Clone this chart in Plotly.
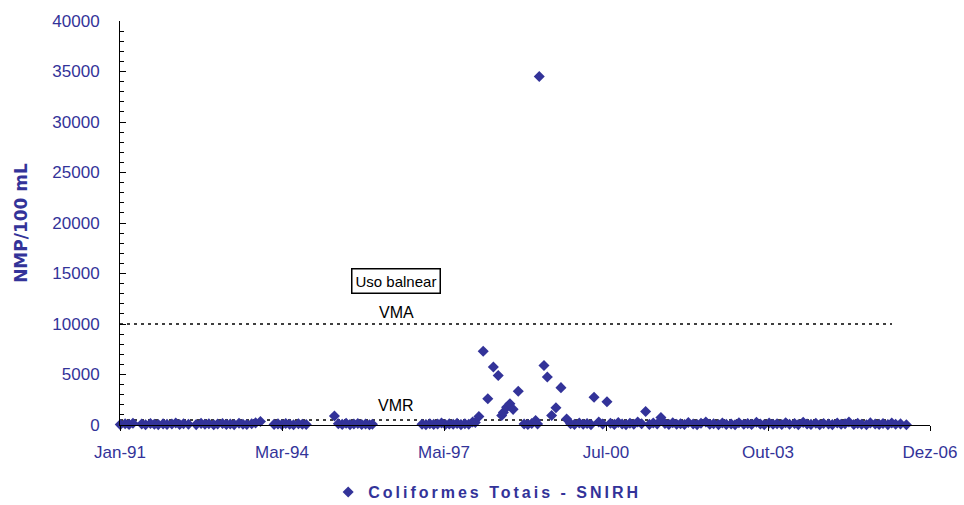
import plotly.graph_objects as go

# Total coliform counts (NMP/100 mL) by sampling date
sample_dates = [
    "1991-01-03", "1991-02-07", "1991-03-07", "1991-04-04", "1991-06-06", "1991-07-04",
    "1991-08-08", "1991-09-05", "1991-10-03", "1991-11-07", "1991-12-05",
    "1992-01-09", "1992-02-06", "1992-03-05", "1992-04-02", "1992-05-07", "1992-07-02",
    "1992-08-06", "1992-09-03", "1992-10-01", "1992-11-05", "1992-12-03",
    "1993-01-07", "1993-02-04", "1993-03-04", "1993-04-01", "1993-05-06", "1993-06-03",
    "1993-07-01", "1993-08-05", "1993-09-02", "1993-10-07",
    "1994-01-13", "1994-02-10", "1994-03-10", "1994-04-07", "1994-05-05", "1994-06-02",
    "1994-07-07", "1994-08-04", "1994-09-01",
    "1995-03-23", "1995-04-20", "1995-05-18", "1995-06-15", "1995-07-13", "1995-08-10",
    "1995-09-07", "1995-10-05", "1995-11-02", "1995-11-30", "1995-12-21",
    "1996-12-12",
    "1997-01-09", "1997-02-06", "1997-03-06", "1997-04-03", "1997-05-01", "1997-05-29",
    "1997-06-26", "1997-07-24", "1997-08-21", "1997-09-18", "1997-10-16", "1997-11-13",
    "1997-12-11", "1997-12-30",
    "1998-01-25", "1998-02-25", "1998-03-30", "1998-05-09", "1998-06-13", "1998-07-08",
    "1998-07-20", "1998-08-12", "1998-09-05", "1998-09-28", "1998-11-04", "1998-12-16",
    "1999-01-12", "1999-02-09", "1999-03-09", "1999-03-23", "1999-04-04", "1999-05-08",
    "1999-06-01", "1999-07-02", "1999-08-02", "1999-09-07", "1999-10-18", "1999-11-15",
    "1999-12-13",
    "2000-01-17", "2000-02-14", "2000-03-13", "2000-04-10", "2000-05-02", "2000-06-05",
    "2000-07-03", "2000-08-03", "2000-08-28", "2000-09-25", "2000-10-23", "2000-11-20",
    "2000-12-18",
    "2001-01-15", "2001-02-12", "2001-03-12", "2001-04-09", "2001-05-08", "2001-06-04",
    "2001-07-02", "2001-07-30", "2001-08-26", "2001-09-24", "2001-10-22", "2001-11-19",
    "2001-12-17",
    "2002-01-14", "2002-02-11", "2002-03-11", "2002-04-15", "2002-05-13", "2002-06-10",
    "2002-07-15", "2002-08-12", "2002-09-09", "2002-10-14", "2002-11-11", "2002-12-09",
    "2003-01-13", "2003-02-10", "2003-03-10", "2003-04-14", "2003-05-12", "2003-06-09",
    "2003-07-14", "2003-08-11", "2003-09-08", "2003-10-13", "2003-11-10", "2003-12-09",
    "2004-01-12", "2004-02-09", "2004-03-08", "2004-04-13", "2004-05-10", "2004-06-14",
    "2004-07-12", "2004-08-09", "2004-09-13", "2004-10-11", "2004-11-08", "2004-12-13",
    "2005-01-10", "2005-02-14", "2005-03-14", "2005-04-11", "2005-05-09", "2005-06-13",
    "2005-07-11", "2005-08-08", "2005-09-12", "2005-10-10", "2005-11-14", "2005-12-12",
    "2006-01-09", "2006-02-13", "2006-03-13", "2006-04-10", "2006-05-15", "2006-06-26",
]
coliformes = [
    40, 120, 60, 180, 90, 30,
    150, 70, 40, 110, 60,
    90, 200, 50, 130, 80, 40,
    160, 70, 120, 30, 90,
    140, 60, 100, 40, 170, 80,
    50, 120, 210, 350,
    60, 110, 40, 150, 80, 30,
    120, 70, 50,
    900, 120, 60, 170, 40, 90,
    140, 50, 100, 30, 70,
    80,
    40, 130, 60, 90, 200, 50,
    110, 70, 160, 40, 120, 80,
    300, 250,
    850, 7300, 2600, 5750, 4900, 950,
    1250, 1750, 2100, 1550, 3350, 90,
    60, 150, 450, 100, 34500, 5900,
    4750, 950, 1700, 3700, 600, 120,
    60,
    200, 80, 150, 40, 2750, 300,
    90, 2300, 170, 60, 250, 100,
    40,
    180, 70, 300, 120, 1330, 60,
    200, 90, 750, 150, 60, 220,
    80,
    130, 50, 250, 90, 40, 180,
    300, 70, 120, 40, 200, 60,
    100, 30, 220, 80, 150, 60,
    280, 90, 40, 190, 70, 120,
    50, 230, 80, 140, 40, 260,
    100, 60, 180, 30, 150, 90,
    40, 200, 70, 120, 300, 50,
    160, 80, 30, 210, 90, 60,
    140, 40, 190, 70, 110, 30,
]

# Bathing-water guideline (VMR) and mandatory (VMA) limits
vma_value = 10000
vmr_value = 500
limit_dates = ["1991-01-01", "2006-03-15"]

# Date axis ticks
tick_dates = ["1991-01-01", "1994-03-11", "1997-05-19", "2000-07-27", "2003-10-05", "2006-12-13"]
tick_labels = ["Jan-91", "Mar-94", "Mai-97", "Jul-00", "Out-03", "Dez-06"]

navy = "#333399"
tick_font = dict(family="Liberation Sans, Arial, sans-serif", size=17, color=navy)

fig = go.Figure()

for level in (vma_value, vmr_value):
    fig.add_trace(go.Scatter(
        x=limit_dates, y=[level, level], mode="lines",
        line=dict(color="black", width=1.5, dash="3px,4px"),
        showlegend=False, hoverinfo="skip",
    ))

fig.add_trace(go.Scatter(
    x=sample_dates, y=coliformes, mode="markers",
    name='<span style="letter-spacing:3px">Coliformes Totais - SNIRH</span>',
    marker=dict(symbol="diamond", size=8.5, color=navy, line=dict(width=0)),
    cliponaxis=False,
))

label_font = dict(family="Liberation Sans, Arial, sans-serif", size=16, color="black")
fig.add_annotation(x="1996-06-08", y=14300, text="Uso balnear", showarrow=False,
                   font=dict(family="Liberation Sans, Arial, sans-serif", size=15, color="black"),
                   bordercolor="black", borderwidth=1.5, borderpad=3, bgcolor="white")
fig.add_annotation(x="1996-06-08", y=vma_value + 1100, text="VMA", showarrow=False, font=label_font)
fig.add_annotation(x="1996-06-08", y=vmr_value + 1450, text="VMR", showarrow=False, font=label_font)

fig.update_layout(
    width=964, height=505,
    margin=dict(l=120, r=34, t=21, b=80, autoexpand=False),
    paper_bgcolor="white", plot_bgcolor="white",
    showlegend=True,
    legend=dict(
        orientation="h", x=0.257, xanchor="left", y=-0.166, yanchor="middle",
        font=dict(family="Liberation Sans, Arial, sans-serif", size=16, color=navy, weight="bold"),
        itemwidth=30, bgcolor="rgba(0,0,0,0)",
    ),
    xaxis=dict(
        type="date", range=["1991-01-01", "2006-12-13"],
        tickmode="array", tickvals=tick_dates, ticktext=tick_labels,
        ticks="outside", ticklen=5, tickcolor="black", tickwidth=1,
        showline=True, linecolor="black", linewidth=1,
        showgrid=False, zeroline=False,
        tickfont=tick_font, ticklabelstandoff=7,
    ),
    yaxis=dict(
        range=[0, 40000], dtick=5000, tick0=0, tickformat="d",
        ticks="inside", ticklen=6, tickcolor="black", tickwidth=1,
        minor=dict(dtick=1000, ticks="inside", ticklen=4, tickcolor="black", showgrid=False),
        showline=True, linecolor="black", linewidth=1,
        showgrid=False, zeroline=False,
        tickfont=tick_font, ticklabelstandoff=16,
        title=dict(text="NMP/100 mL", standoff=20,
                   font=dict(family="DejaVu Sans, sans-serif", size=17, color=navy, weight="bold")),
    ),
)

fig.write_html("out.html")
